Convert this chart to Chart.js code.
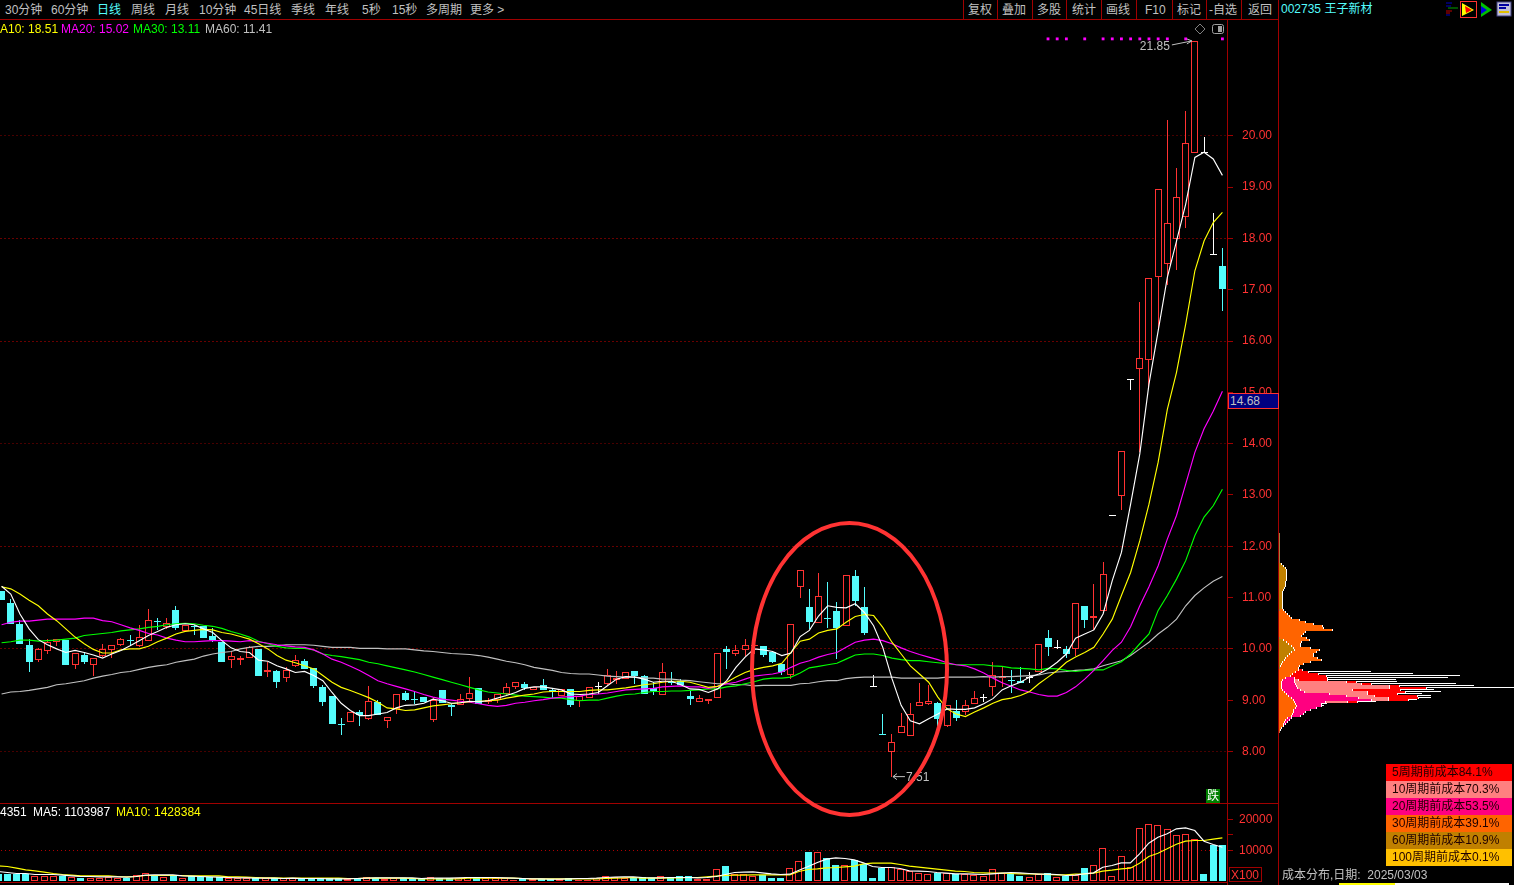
<!DOCTYPE html>
<html>
<head>
<meta charset="utf-8">
<script src="https://cdn.jsdelivr.net/npm/chart.js@4"></script>
<style>
html, body { margin: 0; padding: 0; width: 1514px; height: 885px; background: #000; overflow: hidden; }
body { font-family: "Liberation Sans", "Noto Sans CJK SC", sans-serif; font-size: 12px; color: #c0c0c0; }
canvas, .abs, svg { position: absolute; }
.abs { white-space: nowrap; line-height: 14px; }
.rule { background: #a00000; }
</style>
</head>
<body>
<canvas id="priceChart" style="left:-7px;top:20px"></canvas>
<canvas id="volumeChart" style="left:-7px;top:804px"></canvas>
<canvas id="costChart" style="left:1279px;top:533px"></canvas>
<div id="texts"></div>
<svg width="1514" height="885" style="left:0;top:0;pointer-events:none">
  <ellipse cx="849.5" cy="669" rx="97.5" ry="146" fill="none" stroke="#ff3333" stroke-width="4"/>
  <path d="M1200 24 l5 5 -5 5 -5 -5z" fill="none" stroke="#808080"/>
  <rect x="1212.5" y="24.5" width="11" height="9" rx="2" fill="none" stroke="#a0a0a0"/>
  <rect x="1218" y="26" width="4" height="6" fill="#a0a0a0"/>
  <path d="M1446 3h6M1446 6h5M1446 15h4" stroke="#0000c0"/><path d="M1448 8h10" stroke="#00a000"/><path d="M1446 11h6M1446 13h4" stroke="#c00000"/>
  <rect x="1460.5" y="1.5" width="16" height="16" fill="none" stroke="#ff3232"/>
  <path d="M1462 3l12 7 -12 6z" fill="#ffff00"/><path d="M1465 6l7 4 -6 3z" fill="#ff0000"/>
  <path d="M1481 2l11 8 -11 7z" fill="#00c000"/><path d="M1481 6l6 4 -6 4z" fill="#0000e0"/>
  <rect x="1497" y="2" width="14" height="14" fill="#c0c0d8" stroke="#404080"/><path d="M1499 5h10M1499 8h7" stroke="#0000a0" stroke-width="2"/><path d="M1499 12h10" stroke="#e0c000" stroke-width="2"/>
</svg>
<script>
const opens = [
  11.12,10.90,10.49,10.08,9.78,9.96,10.13,10.18,9.68,9.89,
  9.68,9.87,9.98,10.07,10.17,10.06,10.15,10.55,10.42,10.76,
  10.34,10.45,10.45,10.26,10.14,9.78,9.79,9.82,10.00,9.55,
  9.56,9.43,9.67,9.77,9.62,9.25,9.09,8.54,8.57,8.77,
  8.63,8.97,8.59,8.82,9.14,9.02,9.06,8.62,9.19,8.90,
  8.90,9.02,9.24,8.97,9.00,9.12,9.25,9.32,9.20,9.30,
  9.19,9.09,9.22,8.98,9.04,9.27,9.31,9.40,9.41,9.57,
  9.47,9.24,9.10,9.36,9.38,9.09,8.97,8.98,9.04,10.00,
  9.91,9.97,10.06,10.06,9.94,9.71,9.49,11.20,10.81,10.50,
  10.60,10.73,10.45,11.42,10.82,9.27,8.35,7.99,8.36,8.31,
  8.88,8.92,8.95,8.49,8.79,8.77,8.92,9.06,9.25,9.44,
  9.40,9.38,9.45,9.55,10.21,10.04,10.00,10.00,10.84,10.60,
  10.73,12.61,12.98,15.26,15.45,15.63,17.24,17.51,17.99,18.41,
  19.66,19.68,17.70,17.47
];
const closes = [
  10.96,10.49,10.09,9.74,9.99,10.14,10.19,9.69,9.92,9.74,
  9.82,10.00,10.08,10.19,10.16,10.23,10.56,10.54,10.51,10.40,
  10.47,10.44,10.22,10.18,9.75,9.86,9.82,10.04,9.48,9.59,
  9.36,9.59,9.79,9.60,9.27,8.97,8.54,8.53,8.77,8.71,
  8.99,8.72,8.67,9.12,9.01,9.01,8.97,9.01,8.95,8.86,
  9.02,9.14,8.93,9.00,9.13,9.26,9.36,9.24,9.26,9.19,
  9.15,9.22,8.91,9.08,9.26,9.27,9.49,9.44,9.55,9.48,
  9.13,9.17,9.55,9.35,9.29,9.03,9.04,9.02,9.92,9.93,
  9.98,10.08,10.08,9.89,9.75,9.54,10.49,11.54,10.52,11.03,
  10.59,10.40,11.44,10.94,10.30,9.27,8.34,8.19,8.50,8.73,
  8.97,8.99,8.63,8.91,8.65,8.91,9.04,9.06,9.49,9.45,
  9.39,9.34,9.45,10.10,10.04,10.04,9.91,10.90,10.56,10.64,
  11.46,12.61,13.86,15.26,15.67,17.23,18.96,18.31,18.80,19.86,
  21.84,19.68,17.70,17.01
];
const highs = [
  11.12,10.97,10.56,10.19,10.02,10.19,10.20,10.18,9.92,9.93,
  9.82,10.10,10.08,10.22,10.27,10.47,10.78,10.60,10.60,10.84,
  10.47,10.47,10.45,10.41,10.14,9.93,9.87,10.05,10.00,9.75,
  9.59,9.64,9.89,9.81,9.62,9.30,9.09,8.66,8.77,8.80,
  9.28,9.01,8.67,9.12,9.18,9.18,9.06,9.07,9.19,8.93,
  9.12,9.46,9.24,9.04,9.13,9.34,9.36,9.36,9.26,9.41,
  9.23,9.22,9.22,9.08,9.26,9.36,9.61,9.56,9.55,9.57,
  9.50,9.36,9.73,9.54,9.41,9.17,9.10,9.02,9.92,10.06,
  10.08,10.19,10.08,10.06,9.94,9.71,10.49,11.54,11.17,11.48,
  11.30,10.92,11.44,11.54,11.21,9.50,8.73,8.35,8.76,8.95,
  9.34,9.30,8.97,8.91,9.01,9.01,9.17,9.13,9.75,9.66,
  9.59,9.65,9.55,10.10,10.36,10.18,10.06,10.90,10.84,11.27,
  11.70,12.61,13.86,15.26,16.77,17.23,18.96,20.31,19.38,20.49,
  21.85,19.98,18.49,17.82
];
const lows = [
  10.96,10.49,10.09,9.54,9.74,9.90,10.05,9.69,9.60,9.71,
  9.47,9.84,9.82,10.05,10.05,10.04,10.15,10.36,10.39,10.37,
  10.34,10.28,10.22,10.13,9.74,9.62,9.69,9.82,9.47,9.46,
  9.23,9.36,9.64,9.60,9.23,8.88,8.53,8.33,8.57,8.49,
  8.61,8.72,8.45,8.74,8.99,8.93,8.97,8.57,8.95,8.70,
  8.90,8.99,8.93,8.93,8.94,9.09,9.21,9.20,9.19,9.19,
  9.04,9.09,8.87,8.87,9.04,9.12,9.28,9.32,9.41,9.31,
  9.13,9.11,9.10,9.30,9.29,8.90,8.97,8.92,9.04,9.60,
  9.87,9.87,9.90,9.84,9.73,9.50,9.41,10.99,10.39,10.50,
  10.40,9.80,10.45,10.84,10.27,9.27,8.34,7.51,8.36,8.31,
  8.88,8.90,8.47,8.47,8.59,8.72,8.92,8.97,9.08,9.25,
  9.14,9.33,9.33,9.55,9.87,10.00,9.82,9.86,10.40,10.37,
  10.73,12.61,12.71,15.05,13.83,15.10,16.23,17.10,17.38,18.21,
  19.66,19.68,17.70,16.58
];
const ma5 = [
  11.22,11.07,10.68,10.39,10.18,10.08,10.00,9.93,9.97,9.93,
  9.88,9.82,9.90,9.97,10.06,10.16,10.26,10.34,10.42,10.47,
  10.49,10.47,10.39,10.32,10.16,10.02,9.95,9.93,9.78,9.76,
  9.67,9.61,9.54,9.56,9.48,9.38,9.15,8.94,8.80,8.70,
  8.70,8.73,8.76,8.85,8.90,8.91,8.94,9.02,8.99,8.94,
  8.95,8.98,8.97,8.99,9.04,9.09,9.15,9.23,9.26,9.26,
  9.23,9.20,9.12,9.11,9.12,9.15,9.28,9.41,9.46,9.45,
  9.41,9.35,9.37,9.37,9.30,9.22,9.21,9.15,9.22,9.38,
  9.64,9.84,10.00,9.98,9.95,9.87,9.92,10.24,10.36,10.64,
  10.84,10.81,10.80,10.88,10.71,10.45,10.03,9.42,8.90,8.60,
  8.54,8.64,8.73,8.83,8.82,8.82,8.85,8.93,9.03,9.20,
  9.28,9.35,9.45,9.51,9.61,9.74,9.90,10.21,10.29,10.37,
  10.68,11.33,11.88,12.82,13.80,15.16,16.20,17.24,17.95,18.67,
  19.58,19.68,19.55,19.23
];
const ma10 = [
  11.21,11.17,11.07,10.95,10.84,10.68,10.55,10.39,10.23,10.10,
  9.99,9.92,9.92,9.98,10.00,10.00,10.05,10.14,10.21,10.29,
  10.34,10.36,10.38,10.37,10.32,10.29,10.24,10.19,10.10,10.00,
  9.87,9.78,9.73,9.67,9.61,9.48,9.35,9.25,9.19,9.12,
  9.05,8.96,8.85,8.83,8.80,8.81,8.85,8.89,8.91,8.93,
  8.95,8.97,8.98,8.99,9.00,9.04,9.07,9.10,9.12,9.16,
  9.17,9.17,9.17,9.17,9.19,9.20,9.20,9.22,9.24,9.27,
  9.30,9.32,9.35,9.37,9.37,9.35,9.30,9.25,9.27,9.35,
  9.45,9.54,9.60,9.64,9.67,9.72,9.93,10.15,10.19,10.31,
  10.36,10.39,10.52,10.63,10.67,10.65,10.42,10.13,9.90,9.67,
  9.51,9.35,9.06,8.83,8.73,8.68,8.77,8.85,8.94,9.01,
  9.04,9.09,9.17,9.32,9.45,9.58,9.74,9.84,9.93,10.03,
  10.29,10.58,11.04,11.49,12.11,12.82,13.64,14.67,15.39,16.33,
  17.37,17.95,18.31,18.51
];
const ma20 = [
  10.47,10.52,10.54,10.54,10.56,10.58,10.58,10.58,10.58,10.60,
  10.60,10.55,10.53,10.47,10.41,10.36,10.30,10.27,10.21,10.17,
  10.14,10.14,10.15,10.16,10.16,10.15,10.14,10.16,10.14,10.11,
  10.08,10.06,10.04,10.03,9.98,9.90,9.80,9.74,9.66,9.58,
  9.48,9.38,9.32,9.27,9.22,9.17,9.11,9.06,9.02,9.00,
  8.98,8.96,8.93,8.90,8.88,8.90,8.94,8.96,8.99,9.01,
  9.04,9.06,9.07,9.08,9.11,9.12,9.14,9.17,9.20,9.21,
  9.22,9.23,9.26,9.27,9.28,9.26,9.26,9.23,9.27,9.32,
  9.35,9.41,9.47,9.49,9.51,9.55,9.64,9.72,9.77,9.84,
  9.89,9.93,10.03,10.13,10.17,10.19,10.16,10.10,10.02,9.95,
  9.89,9.84,9.79,9.73,9.69,9.67,9.61,9.53,9.43,9.34,
  9.27,9.20,9.16,9.11,9.08,9.08,9.15,9.26,9.41,9.58,
  9.77,9.97,10.13,10.43,10.84,11.21,11.62,12.14,12.60,13.21,
  13.83,14.29,14.63,15.02
];
const ma30 = [
  10.12,10.14,10.17,10.17,10.15,10.16,10.17,10.19,10.21,10.26,
  10.28,10.30,10.32,10.35,10.37,10.39,10.42,10.44,10.47,10.49,
  10.50,10.49,10.46,10.44,10.40,10.34,10.29,10.23,10.15,10.10,
  10.05,10.02,10.01,10.01,9.98,9.90,9.87,9.85,9.82,9.79,
  9.74,9.71,9.67,9.63,9.59,9.55,9.50,9.45,9.40,9.35,
  9.30,9.25,9.20,9.16,9.14,9.12,9.10,9.08,9.07,9.06,
  9.04,9.04,9.01,8.99,9.00,9.00,9.04,9.08,9.11,9.12,
  9.15,9.17,9.17,9.18,9.18,9.19,9.20,9.22,9.22,9.26,
  9.28,9.32,9.36,9.41,9.43,9.43,9.45,9.53,9.63,9.66,
  9.69,9.72,9.80,9.88,9.90,9.90,9.87,9.82,9.79,9.77,
  9.77,9.75,9.73,9.71,9.69,9.69,9.69,9.69,9.67,9.66,
  9.63,9.62,9.61,9.59,9.62,9.61,9.58,9.56,9.58,9.59,
  9.59,9.67,9.75,9.90,10.10,10.29,10.75,11.04,11.36,11.72,
  12.21,12.57,12.79,13.11
];
const ma60 = [
  9.12,9.16,9.17,9.19,9.22,9.25,9.30,9.32,9.35,9.38,
  9.43,9.47,9.50,9.54,9.56,9.60,9.64,9.67,9.69,9.74,
  9.77,9.80,9.86,9.90,9.93,9.95,10.00,10.03,10.05,10.05,
  10.06,10.08,10.08,10.08,10.07,10.05,10.03,10.03,10.03,10.01,
  10.01,10.01,10.00,10.00,10.00,9.98,9.96,9.95,9.93,9.91,
  9.90,9.89,9.87,9.84,9.80,9.76,9.73,9.69,9.64,9.61,
  9.58,9.54,9.52,9.51,9.51,9.49,9.47,9.46,9.45,9.45,
  9.43,9.43,9.41,9.41,9.39,9.38,9.36,9.34,9.32,9.32,
  9.30,9.30,9.28,9.29,9.29,9.29,9.29,9.32,9.33,9.36,
  9.38,9.38,9.42,9.44,9.45,9.45,9.45,9.45,9.43,9.43,
  9.43,9.43,9.43,9.45,9.45,9.45,9.45,9.46,9.45,9.46,
  9.46,9.47,9.48,9.49,9.53,9.55,9.56,9.58,9.59,9.61,
  9.67,9.72,9.77,9.87,10.00,10.13,10.29,10.42,10.58,10.84,
  11.04,11.19,11.32,11.41
];
const volumes = [
  2365,2365,2365,2470,1830,1830,1830,1830,1500,1290,
  1180,1290,1400,1290,1290,2150,2900,1830,1500,1830,
  1290,1830,1500,1400,1400,1180,1075,1075,1180,970,
  1075,970,970,970,970,970,970,970,860,750,
  1500,1180,750,1180,1180,860,750,1500,1075,1075,
  970,1610,1180,970,970,1075,645,750,750,750,
  750,750,1180,540,645,1180,1830,1610,1075,1075,
  1500,1075,1830,1500,1830,1830,860,860,4085,4840,
  2470,2470,1830,2150,1180,1290,4410,6665,9675,9675,
  7420,5480,5270,6990,5700,970,4410,4730,4085,3440,
  2900,2470,2690,2690,2365,2260,2150,1935,4190,2900,
  2470,1935,1500,2260,2900,1500,1830,2150,4515,5375,
  10860,1830,8280,4620,17310,18600,18275,16985,15050,15375,
  13760,2580,11930,11930
];
const volMa5 = [
  3225,2900,2580,2580,2260,2260,2260,2040,1830,1610,
  1610,1500,1500,1500,1400,1610,2040,2150,2150,2150,
  1830,1720,1610,1500,1400,1290,1180,1180,1075,1075,
  1075,970,1075,970,970,970,860,860,860,970,
  1075,1180,1180,1180,1180,1180,970,1075,1075,1075,
  1180,1290,1290,1290,1290,1180,1075,970,860,860,
  750,750,860,970,970,1075,1290,1400,1500,1500,
  1290,1180,1180,1290,1290,1290,1180,1290,1610,2260,
  2900,3010,3120,2795,2470,2260,2365,3655,4840,6130,
  7200,7635,7420,6990,6020,4840,4515,4515,4190,3440,
  3330,3225,2900,2690,2470,2470,2365,2260,2470,2690,
  2900,2795,2580,2365,2365,2260,1935,2040,2470,2795,
  4620,5160,6020,6020,8920,12365,14295,15375,16985,17310,
  16450,13010,11930,11070
];
const volMa10 = [
  5050,4840,4300,3760,3440,3010,2580,2260,2040,1830,
  1830,1830,1830,1610,1500,1610,1935,1935,1935,1935,
  1935,1830,1830,1830,1830,1500,1500,1400,1290,1180,
  1180,1075,1075,1075,1075,1075,1075,1075,970,970,
  1075,1075,1075,1075,1075,970,860,860,860,860,
  860,1075,1075,1075,1075,1075,1075,970,860,860,
  860,860,860,860,860,860,970,1075,1180,1290,
  1075,1075,1075,1180,1180,1290,1290,1500,1720,1935,
  2040,2040,2150,2150,2150,2150,2150,3225,3870,4085,
  4410,4515,4730,4945,5700,5910,5910,5910,5480,4945,
  4620,4300,3980,3655,3330,3225,2900,2795,2690,2690,
  2580,2470,2470,2365,2260,2150,2150,2365,2470,2690,
  3330,3655,4085,4300,5910,8060,9140,10535,12040,13010,
  13220,13220,13650,14080
];
const signalBars = [114,115,116,118,120,121,122,123,124,125,126,127,129,133];
const priceTicks = [8,9,10,11,12,13,14,15,16,17,18,19,20];
const dimGrid = [8,14,20];
const brightGrid = [10,12,16,18];
const volumeTicks = [10000,15000,20000];
const periodRows = [...Array(100).keys()];
const costBrown = [
  1,1,1,1,1,1,1,1,1,1,
  1,1,1,1,1,3,5,7,8,8,
  8,8,8,8,7,7,7,6,5,4,
  4,4,4,4,4,4,4,4,1,0,
  0,0,0,0,0,0,0,0,0,0,
  0,0,1,5,8,10,13,15,16,13,
  11,9,7,6,4,3,2,1,0,0,
  0,0,0,0,0,0,0,0,0,0,
  0,0,0,0,0,0,0,0,0,0,
  0,0,0,0,0,0,0,0,0,0
];
const costOrange = [
  0,0,0,0,0,0,0,0,0,0,
  0,0,0,0,0,0,0,0,0,0,
  0,0,0,0,0,0,0,0,0,0,
  0,0,0,0,0,0,0,0,4,7,
  9,11,13,21,27,35,44,45,54,27,
  25,23,27,26,15,12,9,17,25,25,
  24,26,32,37,28,22,19,19,20,17,
  14,12,7,4,3,3,3,3,4,6,
  8,10,13,15,16,17,18,17,15,15,
  14,13,9,7,6,5,5,3,2,1
];
const costMagenta = [
  0,0,0,0,0,0,0,0,0,0,
  0,0,0,0,0,0,0,0,0,0,
  0,0,0,0,0,0,0,0,0,0,
  0,0,0,0,0,0,0,0,0,0,
  0,0,0,0,0,0,0,0,0,0,
  0,0,0,0,0,0,0,0,0,0,
  0,0,0,0,0,0,0,0,0,0,
  0,0,9,12,13,14,15,16,18,20,
  43,58,67,78,31,26,25,21,17,12,
  11,9,4,4,3,2,0,0,0,0
];
const costPink = [
  0,0,0,0,0,0,0,0,0,0,
  0,0,0,0,0,0,0,0,0,0,
  0,0,0,0,0,0,0,0,0,0,
  0,0,0,0,0,0,0,0,0,0,
  0,0,0,0,0,0,0,0,0,0,
  0,0,0,0,0,0,0,0,0,0,
  0,0,0,0,0,0,0,0,0,0,
  0,0,0,4,52,66,93,92,52,63,
  38,28,30,17,22,0,0,0,0,0,
  0,0,0,0,0,0,0,0,0,0
];
const costRed = [
  0,0,0,0,0,0,0,0,0,0,
  0,0,0,0,0,0,0,0,0,0,
  0,0,0,0,0,0,0,0,0,0,
  0,0,0,0,0,0,0,0,0,0,
  0,0,0,0,0,0,0,0,0,0,
  0,0,0,0,0,0,0,0,0,0,
  0,0,0,0,0,0,0,0,4,13,
  26,36,33,29,10,10,10,37,48,38,
  30,43,30,20,10,0,0,0,0,0,
  0,0,0,0,0,0,0,0,0,0
];
const costWhite = [
  0,0,0,0,0,0,0,0,0,0,
  0,0,0,0,0,0,0,0,0,0,
  0,0,0,0,0,0,0,0,0,0,
  0,0,0,0,0,0,0,0,0,0,
  0,0,0,0,0,0,0,0,0,0,
  0,0,0,0,0,0,0,0,0,0,
  0,0,0,0,0,0,0,0,0,62,
  94,133,120,68,40,84,74,88,33,35,
  24,13,12,8,18,5,2,0,0,0,
  0,0,0,0,0,0,0,0,0,0
];

const menuLeft = [['30分钟',5],['60分钟',51],['日线',97],['周线',131],['月线',165],['10分钟',199],['45日线',244],['季线',291],['年线',325],['5秒',362],['15秒',392],['多周期',426],['更多 >',470]];
const menuRight = [['复权',968],['叠加',1002],['多股',1037],['统计',1072],['画线',1106],['F10',1145],['标记',1177],['-自选',1209],['返回',1248]];
const menuRules = [963,997,1032,1066,1101,1136,1172,1206,1241];
const maLabels = [['A10: 18.51',0,'#ffff00'],['MA20: 15.02',61,'#ff00ff'],['MA30: 13.11',133,'#00ff00'],['MA60: 11.41',205,'#c0c0c0']];
const volLabels = [['4351',0,'#ffffff'],['MA5: 1103987',33,'#ffffff'],['MA10: 1428384',116,'#ffff00']];
const costLegend = [['5周期前成本84.1%','#ff0000'],['10周期前成本70.3%','#ff8080'],['20周期前成本53.5%','#ff0080'],['30周期前成本39.1%','#ff6400'],['60周期前成本10.9%','#c08000'],['100周期前成本0.1%','#ffc000']];

const RED = '#ff3232', CYAN = '#54fcfc', WHITE = '#ffffff', AXIS = '#a00000';
const dates = closes.map((_, i) => 'd' + i);

function candleColor(i) {
  if (closes[i] > opens[i]) return RED;
  if (closes[i] < opens[i]) return CYAN;
  return WHITE;
}
function volumeColor(i) {
  if (closes[i] > opens[i]) return RED;
  if (closes[i] < opens[i]) return CYAN;
  return i > 0 && closes[i] < closes[i - 1] ? CYAN : RED;
}

// snap bars to whole pixels, the original is drawn without any smoothing
const snapBars = {
  id: 'snapBars',
  afterDatasetsUpdate(chart) {
    chart.data.datasets.forEach((ds, n) => {
      if (ds.type === 'line') return;
      chart.getDatasetMeta(n).data.forEach(el => {
        el.x = Math.floor(el.x) + 0.5;
        el.y = Math.round(el.y);
        el.base = Math.round(el.base);
        if (el.base === el.y) el.base = el.y + 1;
      });
    });
  }
};

// same thing for the one pixel rows of the cost profile
const snapCost = {
  id: 'snapCost',
  afterDatasetsUpdate(chart) {
    const last = chart.data.datasets.length - 1;
    chart.getDatasetMeta(last).data.forEach(el => { el.y = Math.floor(el.y) - 0.5; });
  }
};

// high and low price call-outs
const extremes = {
  id: 'extremes',
  afterDatasetsDraw(chart) {
    const { ctx, scales: { x, y } } = chart;
    const hi = highs.indexOf(Math.max(...highs)), lo = lows.indexOf(Math.min(...lows));
    const hx = x.getPixelForValue(hi) - 3, hy = y.getPixelForValue(highs[hi]);
    const lx = x.getPixelForValue(lo) + 1, ly = y.getPixelForValue(lows[lo]);
    ctx.save();
    ctx.font = '12px "Liberation Sans"';
    ctx.fillStyle = ctx.strokeStyle = '#c0c0c0';
    ctx.lineWidth = 1;
    ctx.textBaseline = 'middle';
    ctx.fillText(highs[hi].toFixed(2), hx - 52, hy + 6);
    ctx.beginPath();
    ctx.moveTo(hx - 20, hy + 4); ctx.lineTo(hx, hy);
    ctx.moveTo(hx - 5, hy - 2); ctx.lineTo(hx, hy); ctx.lineTo(hx - 5, hy + 3);
    ctx.moveTo(lx, ly); ctx.lineTo(lx + 12, ly);
    ctx.moveTo(lx + 4, ly - 3); ctx.lineTo(lx, ly); ctx.lineTo(lx + 4, ly + 3);
    ctx.stroke();
    ctx.fillText(lows[lo].toFixed(2), lx + 13, ly + 1);
    ctx.restore();
  }
};

function maLine(label, data, color, order) {
  return { type: 'line', label, data, borderColor: color, borderWidth: 1.15, pointRadius: 0, tension: 0, order };
}

function setTicks(list) {
  return scale => { scale.ticks = list.map(v => ({ value: v })); };
}
// fixed axis strip, no room kept for half of the first and last label
function fitAxis(s) {
  s.width = 51;
  s.paddingTop = 0;
  s.paddingBottom = 0;
}
function priceGridColor(c) {
  if (!c.tick) return 'transparent';
  if (brightGrid.includes(c.tick.value)) return '#d00000';
  return dimGrid.includes(c.tick.value) ? '#900000' : 'transparent';
}

Chart.defaults.animation = false;
Chart.defaults.responsive = false;
Chart.defaults.font.family = '"Liberation Sans"';
Chart.defaults.font.size = 12;

const price = document.getElementById('priceChart');
price.width = 1285; price.height = 783;
new Chart(price, {
  type: 'bar',
  data: {
    labels: dates,
    datasets: [
      maLine('MA5', ma5, WHITE, 1),
      maLine('MA10', ma10, '#ffff00', 2),
      maLine('MA20', ma20, '#ff00ff', 3),
      maLine('MA30', ma30, '#00ff00', 4),
      maLine('MA60', ma60, '#c0c0c0', 5),
      {
        label: 'signal', type: 'line', showLine: false, order: 0,
        data: dates.map((_, i) => signalBars.includes(i) ? 21.89 : null),
        pointStyle: 'rect', pointRadius: 2, pointBackgroundColor: '#ff00ff', pointBorderWidth: 0
      },
      {
        label: 'body', order: 6, grouped: false, barThickness: 7, borderSkipped: false, inflateAmount: 0,
        data: opens.map((o, i) => [o, closes[i]]),
        backgroundColor: dates.map((_, i) => candleColor(i) === RED ? '#000000' : candleColor(i)),
        borderColor: dates.map((_, i) => candleColor(i)),
        borderWidth: dates.map((_, i) => candleColor(i) === RED ? 1 : 0)
      },
      {
        label: 'wick', order: 7, grouped: false, barThickness: 1, borderWidth: 0, inflateAmount: 0,
        data: lows.map((l, i) => [l, highs[i]]),
        backgroundColor: dates.map((_, i) => candleColor(i))
      }
    ]
  },
  options: {
    layout: { padding: { left: 0.5 } },
    plugins: { legend: { display: false }, tooltip: { enabled: false } },
    scales: {
      x: { display: false, offset: true },
      y: {
        position: 'right', min: 7.074, max: 22.18,
        afterFit: fitAxis,
        afterBuildTicks: setTicks(priceTicks),
        border: { color: AXIS, dash: [1, 3], dashOffset: 0.5 },
        grid: { color: priceGridColor, tickColor: AXIS, tickLength: 6 },
        ticks: { color: RED, padding: 9, callback: v => v.toFixed(2), autoSkip: false, maxRotation: 0 }
      }
    }
  },
  plugins: [snapBars, extremes]
});

const volume = document.getElementById('volumeChart');
volume.width = 1285; volume.height = 79;
new Chart(volume, {
  type: 'bar',
  data: {
    labels: dates,
    datasets: [
      maLine('VOL5', volMa5, WHITE, 1),
      maLine('VOL10', volMa10, '#ffff00', 2),
      {
        label: 'volume', order: 3, grouped: false, barThickness: 7, borderSkipped: false, inflateAmount: 0,
        data: volumes,
        backgroundColor: dates.map((_, i) => volumeColor(i) === RED ? '#000000' : CYAN),
        borderColor: dates.map((_, i) => volumeColor(i)),
        borderWidth: dates.map((_, i) => volumeColor(i) === RED ? 1 : 0)
      }
    ]
  },
  options: {
    layout: { padding: { left: 0.5 } },
    plugins: { legend: { display: false }, tooltip: { enabled: false } },
    scales: {
      x: { display: false, offset: true },
      y: {
        position: 'right', min: -484, max: 25000,
        afterFit: fitAxis,
        afterBuildTicks: setTicks(volumeTicks),
        border: { color: AXIS, dash: [1, 3], dashOffset: 0.5 },
        grid: {
          color: c => c.tick && c.tick.value === 10000 ? '#b00000' : 'transparent',
          tickColor: AXIS, tickLength: 6
        },
        ticks: { color: RED, padding: 6, callback: v => v === 15000 ? '' : String(v), autoSkip: false, maxRotation: 0 }
      }
    }
  },
  plugins: [snapBars]
});

function costLayer(label, data, color) {
  return {
    label, data, backgroundColor: color, borderColor: WHITE,
    borderWidth: { right: 1 }, borderSkipped: false, inflateAmount: 0,
    barPercentage: 1, categoryPercentage: 1
  };
}
const cost = document.getElementById('costChart');
cost.width = 235; cost.height = 200;
new Chart(cost, {
  type: 'bar',
  data: {
    labels: periodRows,
    datasets: [
      costLayer('60', costBrown, '#c08000'),
      costLayer('30', costOrange, '#ff6400'),
      costLayer('20', costMagenta, '#ff0080'),
      costLayer('10', costPink, '#ff8080'),
      costLayer('5', costRed, '#ff0000'),
      { label: 'now', data: costWhite, backgroundColor: WHITE, inflateAmount: 0, barPercentage: 0.5, categoryPercentage: 1 }
    ]
  },
  options: {
    indexAxis: 'y',
    plugins: { legend: { display: false }, tooltip: { enabled: false } },
    scales: {
      x: { display: false, stacked: true, min: 0, max: 235 },
      y: { display: false, stacked: true, offset: true }
    }
  },
  plugins: [snapCost]
});

// toolbar, captions and frame
const texts = document.getElementById('texts');
function addText(s, left, top, color, extra) {
  const el = document.createElement('div');
  el.className = 'abs';
  el.textContent = s;
  el.style.cssText = `left:${left}px;top:${top}px;color:${color};${extra || ''}`;
  texts.appendChild(el);
  return el;
}
function addRule(left, top, width, height, color) {
  const el = document.createElement('div');
  el.className = 'abs rule';
  el.style.cssText = `left:${left}px;top:${top}px;width:${width}px;height:${height}px;background:${color || AXIS}`;
  texts.appendChild(el);
}
addRule(0, 19, 1278, 1);
addRule(0, 803, 1278, 1);
addRule(1278, 0, 1, 885);
addRule(1227, 20, 1, 865);
addRule(0, 882, 1228, 1);
menuRules.forEach(x => addRule(x, 0, 1, 19));
menuLeft.forEach(([s, x]) => addText(s, x, 3, s === '日线' ? '#54fcfc' : '#c0c0c0'));
menuRight.forEach(([s, x]) => addText(s, x, 3, '#c0c0c0'));
maLabels.forEach(([s, x, c]) => addText(s, x, 22, c));
volLabels.forEach(([s, x, c]) => addText(s, x, 805, c));
addText('002735 王子新材', 1281, 2, '#54fcfc');
addText('14.68', 1228, 393, '#c0c0c0', 'width:48px;height:14px;padding-left:1px;background:#000080;border:1px solid #ff3232;box-sizing:content-box;');
addText('X100', 1229, 867, RED, 'width:30px;height:13px;padding-left:1px;border:1px solid #a00000;');
addText('跌', 1206, 789, '#ffffff', 'background:#008000;width:14px;height:14px;text-align:center;');
costLegend.forEach(([s, c], i) => addText(s, 1386, 764 + i * 17, '#200000', `width:120px;height:17px;line-height:17px;padding-left:6px;background:${c};`));
addText('成本分布,日期:  2025/03/03', 1282, 868, '#c0c0c0', 'white-space:pre;');
addRule(1339, 883, 56, 2, '#ffff00');
addRule(1395, 883, 114, 2, '#ffffff');
</script>
</body>
</html>
